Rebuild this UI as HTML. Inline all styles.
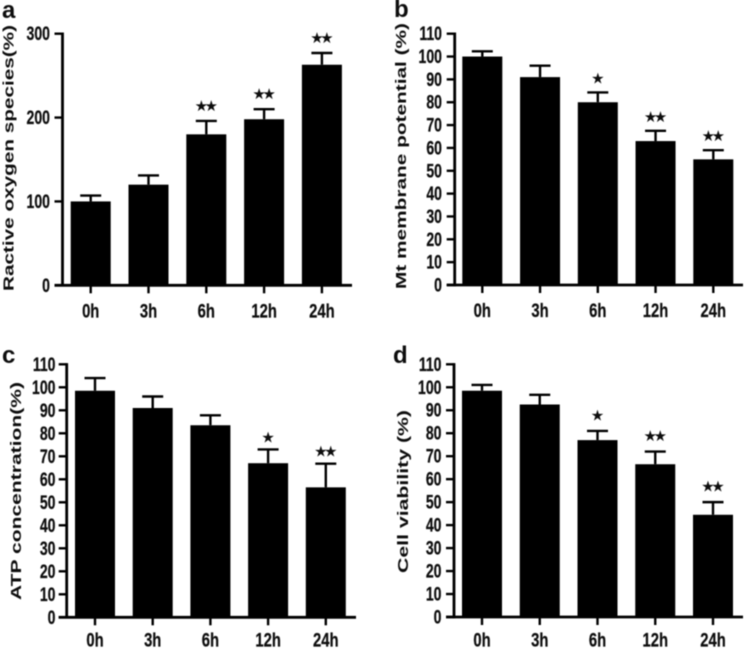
<!DOCTYPE html>
<html lang="en">
<head>
<meta charset="utf-8">
<title>Four bar charts</title>
<style>
html,body{margin:0;padding:0;background:#fff;width:746px;height:649px;overflow:hidden}
svg{display:block}
text{font-family:"Liberation Sans",sans-serif;font-weight:bold;fill:#111}
.tick-text{stroke:#111;stroke-width:0.25}
.star-text{font-family:"DejaVu Sans",sans-serif;font-weight:normal;letter-spacing:-3.5px}
</style>
</head>
<body>
<svg id="figure" width="746" height="649" viewBox="0 0 746 649" xmlns="http://www.w3.org/2000/svg">
  <defs><filter id="soft" x="-2%" y="-2%" width="104%" height="104%"><feGaussianBlur stdDeviation="0.45"/></filter></defs>
  <rect width="746" height="649" fill="#fff"/>
  <g id="root" filter="url(#soft)">
    <text x="2" y="18" font-size="24">a</text>
    <text x="394" y="17" font-size="24">b</text>
    <text x="2" y="363" font-size="24">c</text>
    <text x="393" y="363" font-size="24">d</text>
    <text font-size="15" text-anchor="start" textLength="266" lengthAdjust="spacingAndGlyphs" transform="translate(13.5,291) rotate(-90)">Ractive oxygen species(%)</text>
    <text font-size="15" text-anchor="start" textLength="266" lengthAdjust="spacingAndGlyphs" transform="translate(406,289) rotate(-90)">Mt membrane potential (%)</text>
    <text font-size="15" text-anchor="start" textLength="218" lengthAdjust="spacingAndGlyphs" transform="translate(21,600) rotate(-90)">ATP concentration(%)</text>
    <text font-size="15" text-anchor="start" textLength="163" lengthAdjust="spacingAndGlyphs" transform="translate(408,573) rotate(-90)">Cell viability (%)</text>
  </g>
</svg>
<script>
const categories = ["0h", "3h", "6h", "12h", "24h"];
const ticksA = [0, 100, 200, 300];
const ticksPercent = [0, 10, 20, 30, 40, 50, 60, 70, 80, 90, 100, 110];

const valuesA = [100, 120, 180, 198, 263];
const errorsA = [7, 11, 16, 12, 14];
const starsA = ["", "", "★★", "★★", "★★"];

const valuesB = [100, 91, 80, 63, 55];
const errorsB = [2.3, 5, 4.3, 4.5, 4];
const starsB = ["", "", "★", "★★", "★★"];

const valuesC = [98.5, 91, 83.5, 67, 56.5];
const errorsC = [5.5, 5, 4.3, 6, 10.3];
const starsC = ["", "", "", "★", "★★"];

const valuesD = [98.5, 92.5, 77, 66.5, 44.5];
const errorsD = [2.5, 4.2, 4, 5.5, 5.5];
const starsD = ["", "", "★", "★★", "★★"];

const NS = "http://www.w3.org/2000/svg";
const root = document.getElementById("root");

function make(tag, attrs, parent) {
  const node = document.createElementNS(NS, tag);
  for (const key in attrs) node.setAttribute(key, attrs[key]);
  parent.appendChild(node);
  return node;
}

function drawPanel(id, box, ticks, values, errors, stars) {
  const g = make("g", {}, root);
  
  
  const max = ticks[ticks.length - 1];
  const yScale = v => box.y0 - (v / max) * (box.y0 - box.yTop);
  const xScale = i => box.x0 + i * box.step;

  categories.forEach((cat, i) => {
    const cx = xScale(i);
    const top = yScale(values[i]);
    const errTop = yScale(values[i] + errors[i]);

    const bar = make("rect", { x: cx - 20, y: top, width: 40, height: box.y0 - top, fill: "#000" }, g);
    
    

    const stem = make("line", { x1: cx, x2: cx, y1: errTop, y2: top, stroke: "#000", "stroke-width": 2.4 }, g);
    
    

    const cap = make("line", { x1: cx - 10.5, x2: cx + 10.5, y1: errTop, y2: errTop, stroke: "#000", "stroke-width": 2.4 }, g);
    
    

    const xTick = make("line", { x1: cx, x2: cx, y1: box.y0, y2: box.y0 + 8, stroke: "#000", "stroke-width": 2.4 }, g);
    
    

    const label = make("text", { class: "tick-text", "font-size": 19, "text-anchor": "middle", transform: "translate(" + cx + "," + (box.y0 + box.labelDrop) + ") scale(0.78,1)" }, g);
    label.textContent = cat;
    
    

    if (stars[i]) {
      const star = make("text", { class: "star-text", "font-size": 15, "text-anchor": "middle", x: cx - 1.75, y: errTop - box.starGap + 5 }, g);
      star.textContent = stars[i];
      
      
    }
  });

  const yAxis = make("line", { x1: box.axisX, x2: box.axisX, y1: box.yTop - 1.2, y2: box.y0 + 1.2, stroke: "#000", "stroke-width": 2.8 }, g);
  
  

  const xAxis = make("line", { x1: box.axisX - 8, x2: box.xEnd, y1: box.y0, y2: box.y0, stroke: "#000", "stroke-width": 2.8 }, g);
  
  

  ticks.forEach(t => {
    const y = yScale(t);
    const tick = make("line", { x1: box.axisX - 8, x2: box.axisX, y1: y, y2: y, stroke: "#000", "stroke-width": 2.4 }, g);
    
    

    const label = make("text", { class: "tick-text", "font-size": 19, "text-anchor": "end", transform: "translate(" + box.labelX + "," + (y + 6.5) + ") scale(0.74,1)" }, g);
    label.textContent = t;
    
    
  });
}

drawPanel("a", { axisX: 62.5, x0: 90.7, step: 57.8, y0: 285.3, yTop: 33.7, xEnd: 352, labelX: 50, labelDrop: 32.2, starGap: 15 }, ticksA, valuesA, errorsA, starsA);
drawPanel("b", { axisX: 454.7, x0: 482.3, step: 57.75, y0: 285, yTop: 33.7, xEnd: 743, labelX: 442, labelDrop: 32, starGap: 14 }, ticksPercent, valuesB, errorsB, starsB);
drawPanel("c", { axisX: 66.7, x0: 95, step: 57.7, y0: 617.3, yTop: 364.3, xEnd: 356, labelX: 55.5, labelDrop: 29.4, starGap: 12 }, ticksPercent, valuesC, errorsC, starsC);
drawPanel("d", { axisX: 454, x0: 482, step: 57.75, y0: 617, yTop: 364.3, xEnd: 743, labelX: 441.5, labelDrop: 29.6, starGap: 15.5 }, ticksPercent, valuesD, errorsD, starsD);
</script>
</body>
</html>
